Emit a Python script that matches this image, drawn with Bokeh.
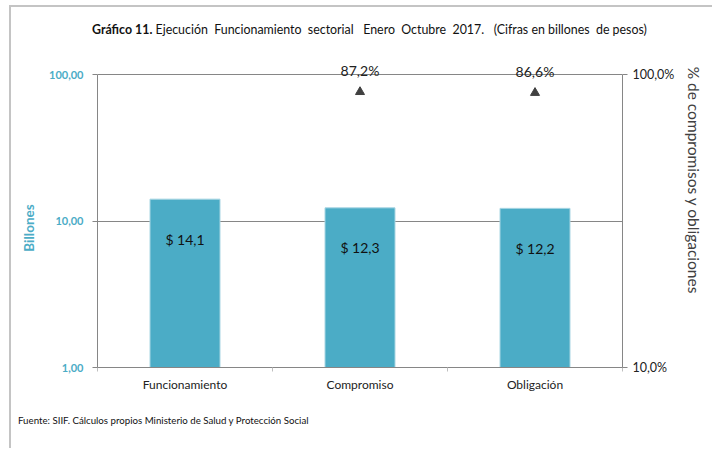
from bokeh.plotting import figure
from bokeh.models import (ColumnDataSource, Range1d, LogAxis, FixedTicker,
                          LabelSet, LogScale, Div)
from bokeh.layouts import column, row
from bokeh.embed import file_html
from bokeh.resources import INLINE
from bokeh.core.properties import value

categories = ["Funcionamiento", "Compromiso", "Obligación"]
billones = [14.1, 12.3, 12.2]
bar_labels = ["$ 14,1", "$ 12,3", "$ 12,2"]
pct_categories = ["Compromiso", "Obligación"]
pct_values = [87.2, 86.6]
pct_labels = ["87,2%", "86,6%"]
left_ticks = [1, 10, 100]
left_tick_labels = ["1,00", "10,00", "100,00"]
right_ticks = [10, 100]
right_tick_labels = ["10,0%", "100,0%"]
title_bold = "Gráfico 11."
title_rest = " Ejecución  Funcionamiento  sectorial   Enero  Octubre  2017.   (Cifras en billones  de pesos)"
footer = "Fuente: SIIF. Cálculos propios Ministerio de Salud y Protección Social"
left_title = "Billones"
right_title = "% de compromisos y obligaciones"

FONT = "Lato"
BLUE = "#4BACC6"
GRAY = "#868686"
DARK = "#404040"

xpos = [i + 0.5 for i in range(len(categories))]
pct_x = [categories.index(c) + 0.5 for c in pct_categories]

TOTAL_W = 701
LEFT_W, RIGHT_W = 29, 30
FIG_W = TOTAL_W - LEFT_W - RIGHT_W
FIG_H = 347
BL, BR, BT, BB = 57, 60, 7, 33
AXIS_PX = 293          # pixels from 1 to 100 (left) / 10 to 100 (right)
EXTRA_PX = 14          # room above the 100 gridline for the % labels
left_top = 100 * 10 ** (2 * EXTRA_PX / AXIS_PX)
right_top = 100 * 10 ** (EXTRA_PX / AXIS_PX)

p = figure(width=FIG_W, height=FIG_H, output_backend="svg", toolbar_location=None,
           x_range=Range1d(0, len(categories)), y_range=Range1d(1, left_top),
           y_axis_type="log", min_border_left=BL, min_border_right=BR,
           min_border_top=BT, min_border_bottom=BB)
p.outline_line_color = None
p.background_fill_color = "white"
p.border_fill_color = "white"

p.extra_y_ranges = {"pct": Range1d(10, right_top)}
p.extra_y_scales = {"pct": LogScale()}

src = ColumnDataSource(dict(x=xpos, top=billones, lab=bar_labels))
p.vbar(x="x", top="top", bottom=1, width=0.4, source=src,
       fill_color=BLUE, line_color="#a9d6e3", line_width=1)
p.text(x="x", y="top", text="lab", source=src, y_offset=40,
       text_align="center", text_baseline="middle", text_font=value(FONT),
       text_font_size="14px", text_color="#111111")

psrc = ColumnDataSource(dict(x=pct_x, y=pct_values, lab=pct_labels))
p.scatter(x="x", y="y", source=psrc, marker="triangle", size=9,
          fill_color=DARK, line_color=DARK, y_range_name="pct")
p.add_layout(LabelSet(x="x", y="y", text="lab", source=psrc, y_offset=21,
                      y_range_name="pct", text_align="center", text_baseline="middle",
                      text_font=value(FONT), text_font_size="14px",
                      text_color="#222222"))

# left axis
ya = p.yaxis[0]
ya.bounds = (left_ticks[0], left_ticks[-1])
ya.ticker = FixedTicker(ticks=left_ticks, minor_ticks=[])
ya.major_label_overrides = {t: l for t, l in zip(left_ticks, left_tick_labels)}
ya.major_label_text_color = BLUE
ya.major_label_text_font = FONT
ya.major_label_text_font_style = "bold"
ya.major_label_text_font_size = "11px"
ya.major_label_standoff = 9
ya.major_tick_in = 0
ya.major_tick_out = 5
ya.minor_tick_line_color = None
ya.axis_line_color = GRAY
ya.major_tick_line_color = GRAY

p.ygrid.ticker = FixedTicker(ticks=left_ticks[1:])
p.ygrid.grid_line_color = GRAY
p.xgrid.grid_line_color = None

# x axis
xa = p.xaxis[0]
xa.ticker = FixedTicker(ticks=xpos, minor_ticks=list(range(len(categories) + 1)))
xa.major_label_overrides = {x: c for x, c in zip(xpos, categories)}
xa.major_tick_line_color = None
xa.major_tick_in = 0
xa.major_tick_out = 0
xa.minor_tick_in = 0
xa.minor_tick_out = 4
xa.minor_tick_line_color = "#bfbfbf"
xa.axis_line_color = GRAY
xa.major_label_text_font = FONT
xa.major_label_text_font_size = "12px"
xa.major_label_text_color = "#222222"
xa.major_label_standoff = 5

# right axis
ra = LogAxis(y_range_name="pct", ticker=FixedTicker(ticks=right_ticks, minor_ticks=[]))
ra.bounds = (right_ticks[0], right_ticks[-1])
ra.major_label_overrides = {t: l for t, l in zip(right_ticks, right_tick_labels)}
ra.major_label_text_font = FONT
ra.major_label_text_font_size = "12.5px"
ra.major_label_text_color = "#222222"
ra.major_tick_in = 0
ra.major_tick_out = 5
ra.axis_line_color = GRAY
ra.major_tick_line_color = GRAY
ra.minor_tick_line_color = None
p.add_layout(ra, "right")


def vertical_div(text, w, h, cx, cy, rot, css):
    inner = (f'<div style="position:relative; width:{w}px; height:{h}px;">'
             f'<div style="position:absolute; left:{cx}px; top:{cy}px; white-space:nowrap; '
             f'writing-mode:vertical-rl; transform:translate(-50%,-50%) rotate({rot}deg); '
             f'font-family:{FONT}; {css}">{text}</div></div>')
    return Div(text=inner, width=w, height=h, margin=0)


left_div = vertical_div(left_title, LEFT_W, FIG_H, 19, 175, 180,
                        f"font-size:13.5px; font-weight:bold; color:{BLUE};")
right_div = vertical_div(right_title, RIGHT_W, FIG_H, 12, 127, 0,
                         f"font-size:15.5px; color:{DARK};")

title = Div(text=f'<div style="padding-left:81px; line-height:46px; white-space:pre; '
                 f'font-family:{FONT}; font-size:12.4px; color:#111;">'
                 f'<b>{title_bold}</b>{title_rest}</div>',
            width=TOTAL_W, height=46, margin=0)
foot = Div(text=f'<div style="padding-left:7px; line-height:40px; white-space:pre; '
                f'font-family:{FONT}; font-size:9.7px; color:#111;">{footer}</div>',
           width=TOTAL_W, height=48, margin=0)

middle = row(left_div, p, right_div, spacing=0)
layout = column(title, middle, foot, spacing=0)
layout.styles = {"border-left": "2px solid #c4c4c4", "border-top": "2px solid #c4c4c4",
                 "margin-left": "9px", "margin-top": "5px"}

open("out.html", "w").write(file_html(layout, INLINE))
